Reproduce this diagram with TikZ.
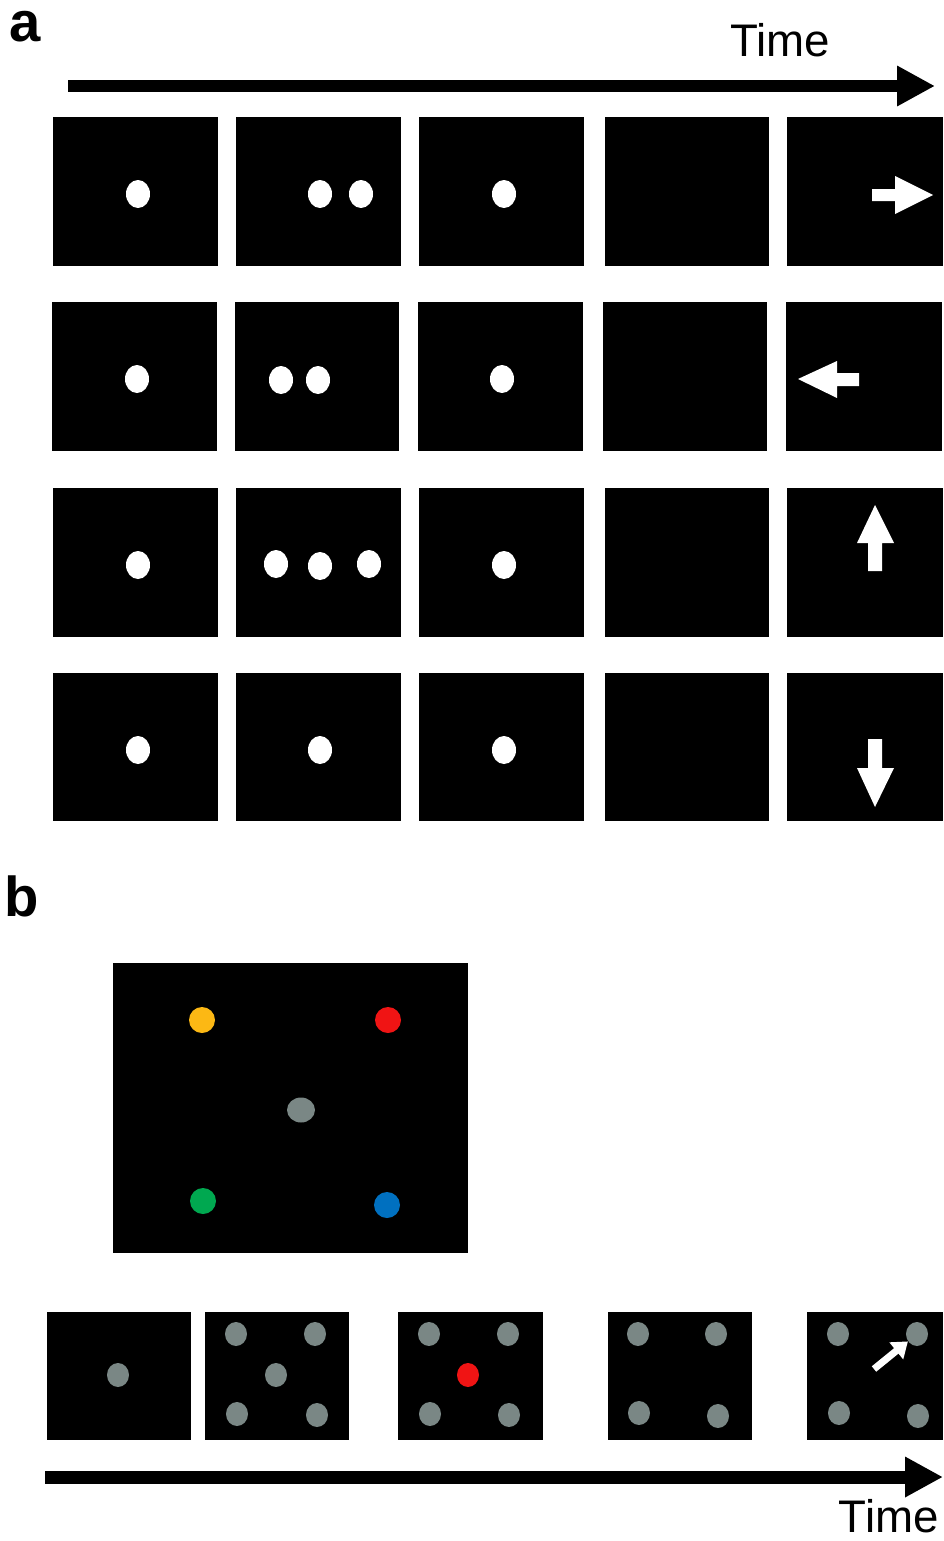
\documentclass[tikz,border=0pt]{standalone}
\usepackage{fontspec}
\setmainfont{Liberation Sans}
\usetikzlibrary{shapes.geometric, arrows.meta, positioning}

\definecolor{dotgray}{RGB}{122,135,133}
\definecolor{dotred}{RGB}{240,20,20}
\definecolor{dotyellow}{RGB}{252,184,20}
\definecolor{dotgreen}{RGB}{0,168,80}
\definecolor{dotblue}{RGB}{0,112,192}

\begin{document}
\begin{tikzpicture}[x=0.02cm, y=-0.02cm,
  sbox/.style={rectangle, fill=black, inner sep=0pt, minimum width=3.3cm, minimum height=2.98cm},
  ebox/.style={sbox, minimum width=3.12cm},
  bbox/.style={rectangle, fill=black, inner sep=0pt, minimum width=2.9cm, minimum height=2.56cm},
  wdot/.style={ellipse, fill=white, inner sep=0pt, minimum width=0.48cm, minimum height=0.56cm},
  cdot/.style={circle, inner sep=0pt, minimum size=0.52cm},
  gdot/.style={ellipse, fill=dotgray, inner sep=0pt, minimum width=0.44cm, minimum height=0.48cm},
  plbl/.style={font=\fontsize{32}{36}\selectfont\bfseries, inner sep=0pt},
  tlbl/.style={font=\fontsize{26}{30}\selectfont, inner sep=0pt},
  timearr/.style={draw, line width=0.26cm, -{Triangle[length=0.76cm, width=0.76cm]}},
  cue/.style={fill=white}
]
\useasboundingbox (0,0) rectangle (943,1541);

%% panel a
\node[plbl] (la) at (25,27) {a};
\node[tlbl] (ta) at (780,40) {Time};
\coordinate (ta0) at (68,86);
\coordinate (ta1) at (935,86);
\draw[timearr] (ta0) -- (ta1);

%% screens, row by row
\node[sbox] (a11) at (135.5,191.5) {}; \node[sbox] (a12) at (318.5,191.5) {};
\node[sbox] (a13) at (501.5,191.5) {}; \node[sbox] (a14) at (687,191.5) {};
\node[ebox] (a15) at (865,191.5) {};

\node[sbox] (a21) at (134.5,376.5) {}; \node[sbox] (a22) at (317,376.5) {};
\node[sbox] (a23) at (500.5,376.5) {}; \node[sbox] (a24) at (685,376.5) {};
\node[ebox] (a25) at (864,376.5) {};

\node[sbox] (a31) at (135.5,562.5) {}; \node[sbox] (a32) at (318.5,562.5) {};
\node[sbox] (a33) at (501.5,562.5) {}; \node[sbox] (a34) at (687,562.5) {};
\node[ebox] (a35) at (865,562.5) {};

\node[sbox] (a41) at (135.5,747) {}; \node[sbox] (a42) at (318.5,747) {};
\node[sbox] (a43) at (501.5,747) {}; \node[sbox] (a44) at (687,747) {};
\node[ebox] (a45) at (865,747) {};

%% flashes and beeps
\node[wdot] (w11) at (138,194) {};
\node[wdot] (w12a) at (320,194) {}; \node[wdot] (w12b) at (361,194) {};
\node[wdot] (w13) at (504,194) {};

\node[wdot] (w21) at (137,379) {};
\node[wdot] (w22a) at (281,380) {}; \node[wdot] (w22b) at (318,380) {};
\node[wdot] (w23) at (502,379) {};

\node[wdot] (w31) at (138,565) {};
\node[wdot] (w32a) at (276,564) {}; \node[wdot] (w32b) at (320,566) {};
\node[wdot] (w32c) at (369,564) {};
\node[wdot] (w33) at (504,565) {};

\node[wdot] (w41) at (138,750) {};
\node[wdot] (w42) at (320,750) {};
\node[wdot] (w43) at (504,750) {};

%% response cues
\fill[cue] (872,189) -- (895,189) -- (895,176) -- (933,195) -- (895,214) -- (895,201) -- (872,201) -- cycle;
\fill[cue] (859,373) -- (837,373) -- (837,361) -- (798,379) -- (837,398) -- (837,386) -- (859,386) -- cycle;
\fill[cue] (868,571) -- (868,543) -- (857,543) -- (875,505) -- (894,543) -- (882,543) -- (882,571) -- cycle;
\fill[cue] (868,739) -- (882,739) -- (882,768) -- (894,768) -- (875,807) -- (857,768) -- (868,768) -- cycle;

%% panel b
\node[plbl] (lb) at (22,896) {b};

\node[rectangle, fill=black, inner sep=0pt, minimum width=7.1cm, minimum height=5.8cm] (big) at (290.5,1108) {};
\node[cdot, fill=dotyellow] (cy) at (202,1020) {};
\node[cdot, fill=dotred] (cr) at (388,1020) {};
\node[ellipse, fill=dotgray, inner sep=0pt, minimum width=0.56cm, minimum height=0.5cm] (cg) at (301,1110) {};
\node[cdot, fill=dotgreen] (cgr) at (203,1201) {};
\node[cdot, fill=dotblue] (cb) at (387,1205) {};

%% trial sequence
\node[bbox] (b1) at (119,1376) {};
\node[bbox] (b2) at (277,1376) {};
\node[bbox] (b3) at (470.5,1376) {};
\node[bbox] (b4) at (680,1376) {};
\node[bbox, minimum width=2.72cm] (b5) at (875,1376) {};

\node[gdot] (g1) at (118,1375) {};

\node[gdot] (g21) at (236,1334) {}; \node[gdot] (g22) at (315,1334) {};
\node[gdot] (g23) at (276,1375) {};
\node[gdot] (g24) at (237,1414) {}; \node[gdot] (g25) at (317,1415) {};

\node[gdot] (g31) at (429,1334) {}; \node[gdot] (g32) at (508,1334) {};
\node[gdot, fill=dotred] (r33) at (468,1375) {};
\node[gdot] (g34) at (430,1414) {}; \node[gdot] (g35) at (509,1415) {};

\node[gdot] (g41) at (638,1334) {}; \node[gdot] (g42) at (716,1334) {};
\node[gdot] (g44) at (639,1413) {}; \node[gdot] (g45) at (718,1416) {};

\node[gdot] (g51) at (838,1334) {}; \node[gdot] (g52) at (917,1334) {};
\node[gdot] (g54) at (839,1413) {}; \node[gdot] (g55) at (918,1416) {};

\coordinate (pt) at (874,1369);
\draw[white, line width=0.14cm, -{Triangle[length=0.3cm, width=0.42cm]}] (pt) -- (g52);

\coordinate (tb0) at (45,1477);
\coordinate (tb1) at (943,1477);
\draw[timearr] (tb0) -- (tb1);
\node[tlbl, anchor=east] (tb) at (939,1516) {Time};

\end{tikzpicture}
\end{document}
